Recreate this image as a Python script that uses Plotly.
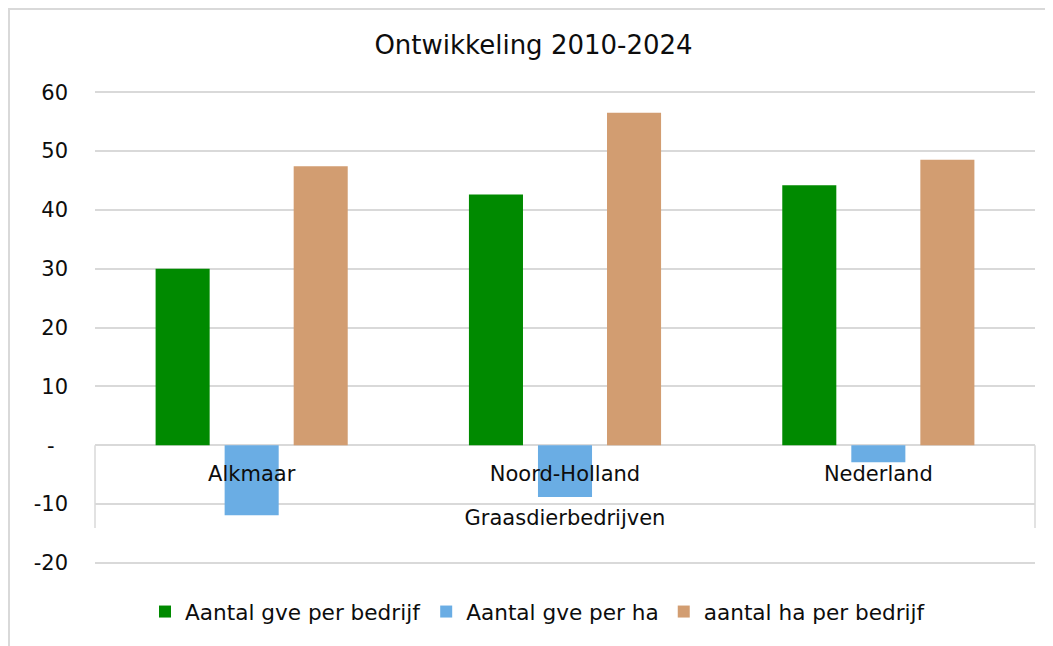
import plotly.graph_objects as go

categories = ["Alkmaar", "Noord-Holland", "Nederland"]
group_label = "Graasdierbedrijven"
gve_per_bedrijf = [30.0, 42.6, 44.2]
gve_per_ha = [-11.9, -8.8, -2.9]
ha_per_bedrijf = [47.4, 56.5, 48.5]
series_names = ["Aantal gve per bedrijf", "Aantal gve per ha", "aantal ha per bedrijf"]
series_colors = ["#008a00", "#6aade4", "#d29d71"]
y_tickvals = [-20, -10, 0, 10, 20, 30, 40, 50, 60]
y_ticktext = ["-20", "-10", "-\u00a0\u00a0", "10", "20", "30", "40", "50", "60"]

FONT = "DejaVu Sans"
GRID = "#d9d9d9"
OFF = 8  # page body offset
Y0, Y1 = -20.2, 60.2
# plot area in screen pixels
PL, PR, PT, PB = 95, 1035, 91, 564
PW, PH = PR - PL, PB - PT

fig = go.Figure()
for name, vals, col in zip(series_names, [gve_per_bedrijf, gve_per_ha, ha_per_bedrijf], series_colors):
    fig.add_trace(go.Bar(x=categories, y=vals, name=name, marker=dict(color=col, line=dict(width=0))))

fig.update_layout(
    width=1053, height=646,
    margin=dict(l=PL - OFF, r=1053 + OFF - PR, t=PT - OFF, b=646 + OFF - PB),
    paper_bgcolor="white", plot_bgcolor="white",
    font=dict(family=FONT, size=21, color="#0d0d0d"),
    barmode="group", bargap=0.339, bargroupgap=0.217,
    title=dict(text="Ontwikkeling 2010-2024", x=(533.5 - OFF) / 1053, xref="container", xanchor="center",
               y=1 - (45 - OFF) / 646, yref="container", yanchor="middle",
               font=dict(family=FONT, size=26, color="#0d0d0d")),
    showlegend=True,
    legend=dict(orientation="h", x=(538 - PL) / PW, xanchor="center", y=(PB - 612) / PH,
                yanchor="middle", font=dict(family=FONT, size=21.6, color="#0d0d0d"),
                bgcolor="rgba(0,0,0,0)"),
    yaxis=dict(range=[Y0, Y1], tickvals=y_tickvals, ticktext=y_ticktext, showgrid=True,
               gridcolor=GRID, gridwidth=1.5, zeroline=True, zerolinecolor=GRID, zerolinewidth=1.5,
               showline=False, ticks="", ticklabelstandoff=26, fixedrange=True),
    xaxis=dict(anchor="free", position=(0 - Y0) / (Y1 - Y0), showline=False, showgrid=False, ticks="outside",
               ticklen=10, tickcolor="rgba(0,0,0,0)",
               title=dict(text=group_label, standoff=24, font=dict(family=FONT, size=21, color="#0d0d0d"))),
)

# category axis box lines (left and right edges below zero)
for xd in (0, 1):
    fig.add_shape(type="line", xref="x domain", yref="y", x0=xd, x1=xd, y0=0, y1=-14.1,
                  line=dict(color=GRID, width=1.5))

# chart area border
fig.add_shape(type="rect", xref="paper", yref="paper",
              x0=(9 - PL) / PW, x1=(1080 - PL) / PW, y0=(PB - 680) / PH, y1=(PB - 9) / PH,
              line=dict(color=GRID, width=2), fillcolor="rgba(0,0,0,0)", layer="below")

fig.write_html("out.html")
